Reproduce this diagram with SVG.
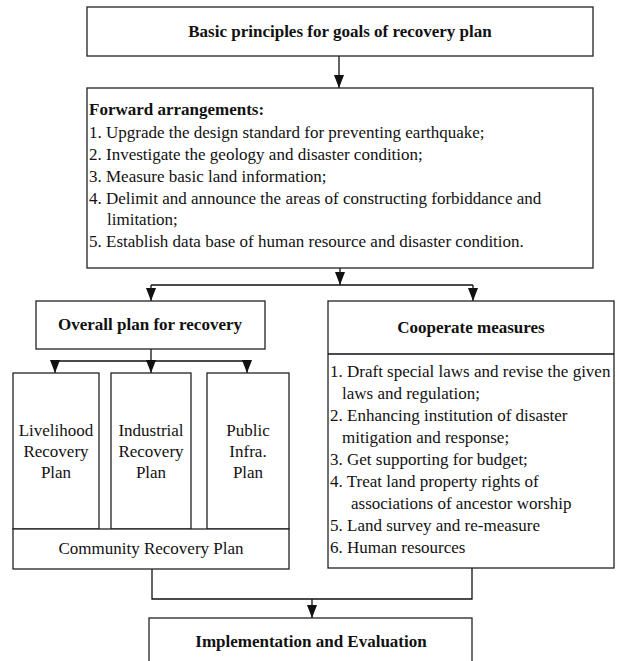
<svg xmlns="http://www.w3.org/2000/svg" width="619" height="661" viewBox="0 0 619 661">
<style>
.box{fill:#fff;stroke:#222;stroke-width:1.3}
.ln{fill:none;stroke:#111;stroke-width:1.3}
.t{font-family:"Liberation Serif","Times New Roman",serif;font-size:17px;fill:#111}
.b{font-weight:bold}
.c{text-anchor:middle}
</style>
<defs>
<marker id="a" markerUnits="userSpaceOnUse" markerWidth="13" markerHeight="10" viewBox="0 0 13 10" refX="13" refY="5" orient="auto">
<path d="M0,0 L13,5 L0,10 Z" fill="#111"/>
</marker>
</defs>
<rect width="619" height="661" fill="#fff"/>
<g id="connectors">
<path class="ln" d="M339,56 V88" marker-end="url(#a)"/>
<path class="ln" d="M340,268 V285" marker-end="url(#a)"/>
<path class="ln" d="M151,285 H473"/>
<path class="ln" d="M151,285 V301" marker-end="url(#a)"/>
<path class="ln" d="M473,285 V301" marker-end="url(#a)"/>
<path class="ln" d="M151,349 V361 M55,361 H246"/>
<path class="ln" d="M55,361 V373" marker-end="url(#a)"/>
<path class="ln" d="M151,361 V373" marker-end="url(#a)"/>
<path class="ln" d="M247,361 V373" marker-end="url(#a)"/>
<path class="ln" d="M152,569 V599 H472 V568"/>
<path class="ln" d="M312,599 V618" marker-end="url(#a)"/>
</g>
<g id="basic-principles">
<rect class="box" x="87" y="7" width="506" height="49"/>
<text class="t b c" x="340" y="37">Basic principles for goals of recovery plan</text>
</g>
<g id="forward-arrangements">
<rect class="box" x="87" y="88" width="506" height="180"/>
<text class="t b" x="89" y="115">Forward arrangements:</text>
<text class="t" x="89" y="138">1. Upgrade the design standard for preventing earthquake;</text>
<text class="t" x="89" y="160">2. Investigate the geology and disaster condition;</text>
<text class="t" x="89" y="182">3. Measure basic land information;</text>
<text class="t" x="89" y="204">4. Delimit and announce the areas of constructing forbiddance and</text>
<text class="t" x="107" y="225">limitation;</text>
<text class="t" x="89" y="247">5. Establish data base of human resource and disaster condition.</text>
</g>
<g id="overall-plan">
<rect class="box" x="36" y="301" width="229" height="48"/>
<text class="t b c" x="150" y="330">Overall plan for recovery</text>
</g>
<g id="livelihood">
<rect class="box" x="13" y="373" width="86" height="156"/>
<text class="t c" x="56" y="436">Livelihood</text>
<text class="t c" x="56" y="457">Recovery</text>
<text class="t c" x="56" y="478">Plan</text>
</g>
<g id="industrial">
<rect class="box" x="111" y="373" width="80" height="156"/>
<text class="t c" x="151" y="436">Industrial</text>
<text class="t c" x="151" y="457">Recovery</text>
<text class="t c" x="151" y="478">Plan</text>
</g>
<g id="public-infra">
<rect class="box" x="207" y="373" width="82" height="156"/>
<text class="t c" x="248" y="436">Public</text>
<text class="t c" x="248" y="457">Infra.</text>
<text class="t c" x="248" y="478">Plan</text>
</g>
<g id="community">
<rect class="box" x="13" y="529" width="276" height="40"/>
<text class="t c" x="151" y="554">Community Recovery Plan</text>
</g>
<g id="cooperate-measures">
<rect class="box" x="328" y="301" width="286" height="267"/>
<path class="ln" d="M328,354 H614"/>
<text class="t b c" x="471" y="333">Cooperate measures</text>
<text class="t" x="330" y="377">1. Draft special laws and revise the given</text>
<text class="t" x="342" y="399">laws and regulation;</text>
<text class="t" x="330" y="421">2. Enhancing institution of disaster</text>
<text class="t" x="342" y="443">mitigation and response;</text>
<text class="t" x="330" y="465">3. Get supporting for budget;</text>
<text class="t" x="330" y="487">4. Treat land property rights of</text>
<text class="t" x="351" y="509">associations of ancestor worship</text>
<text class="t" x="330" y="531">5. Land survey and re-measure</text>
<text class="t" x="330" y="553">6. Human resources</text>
</g>
<g id="implementation">
<rect class="box" x="149" y="618" width="323" height="60"/>
<text class="t b c" x="311" y="647">Implementation and Evaluation</text>
</g>
</svg>
